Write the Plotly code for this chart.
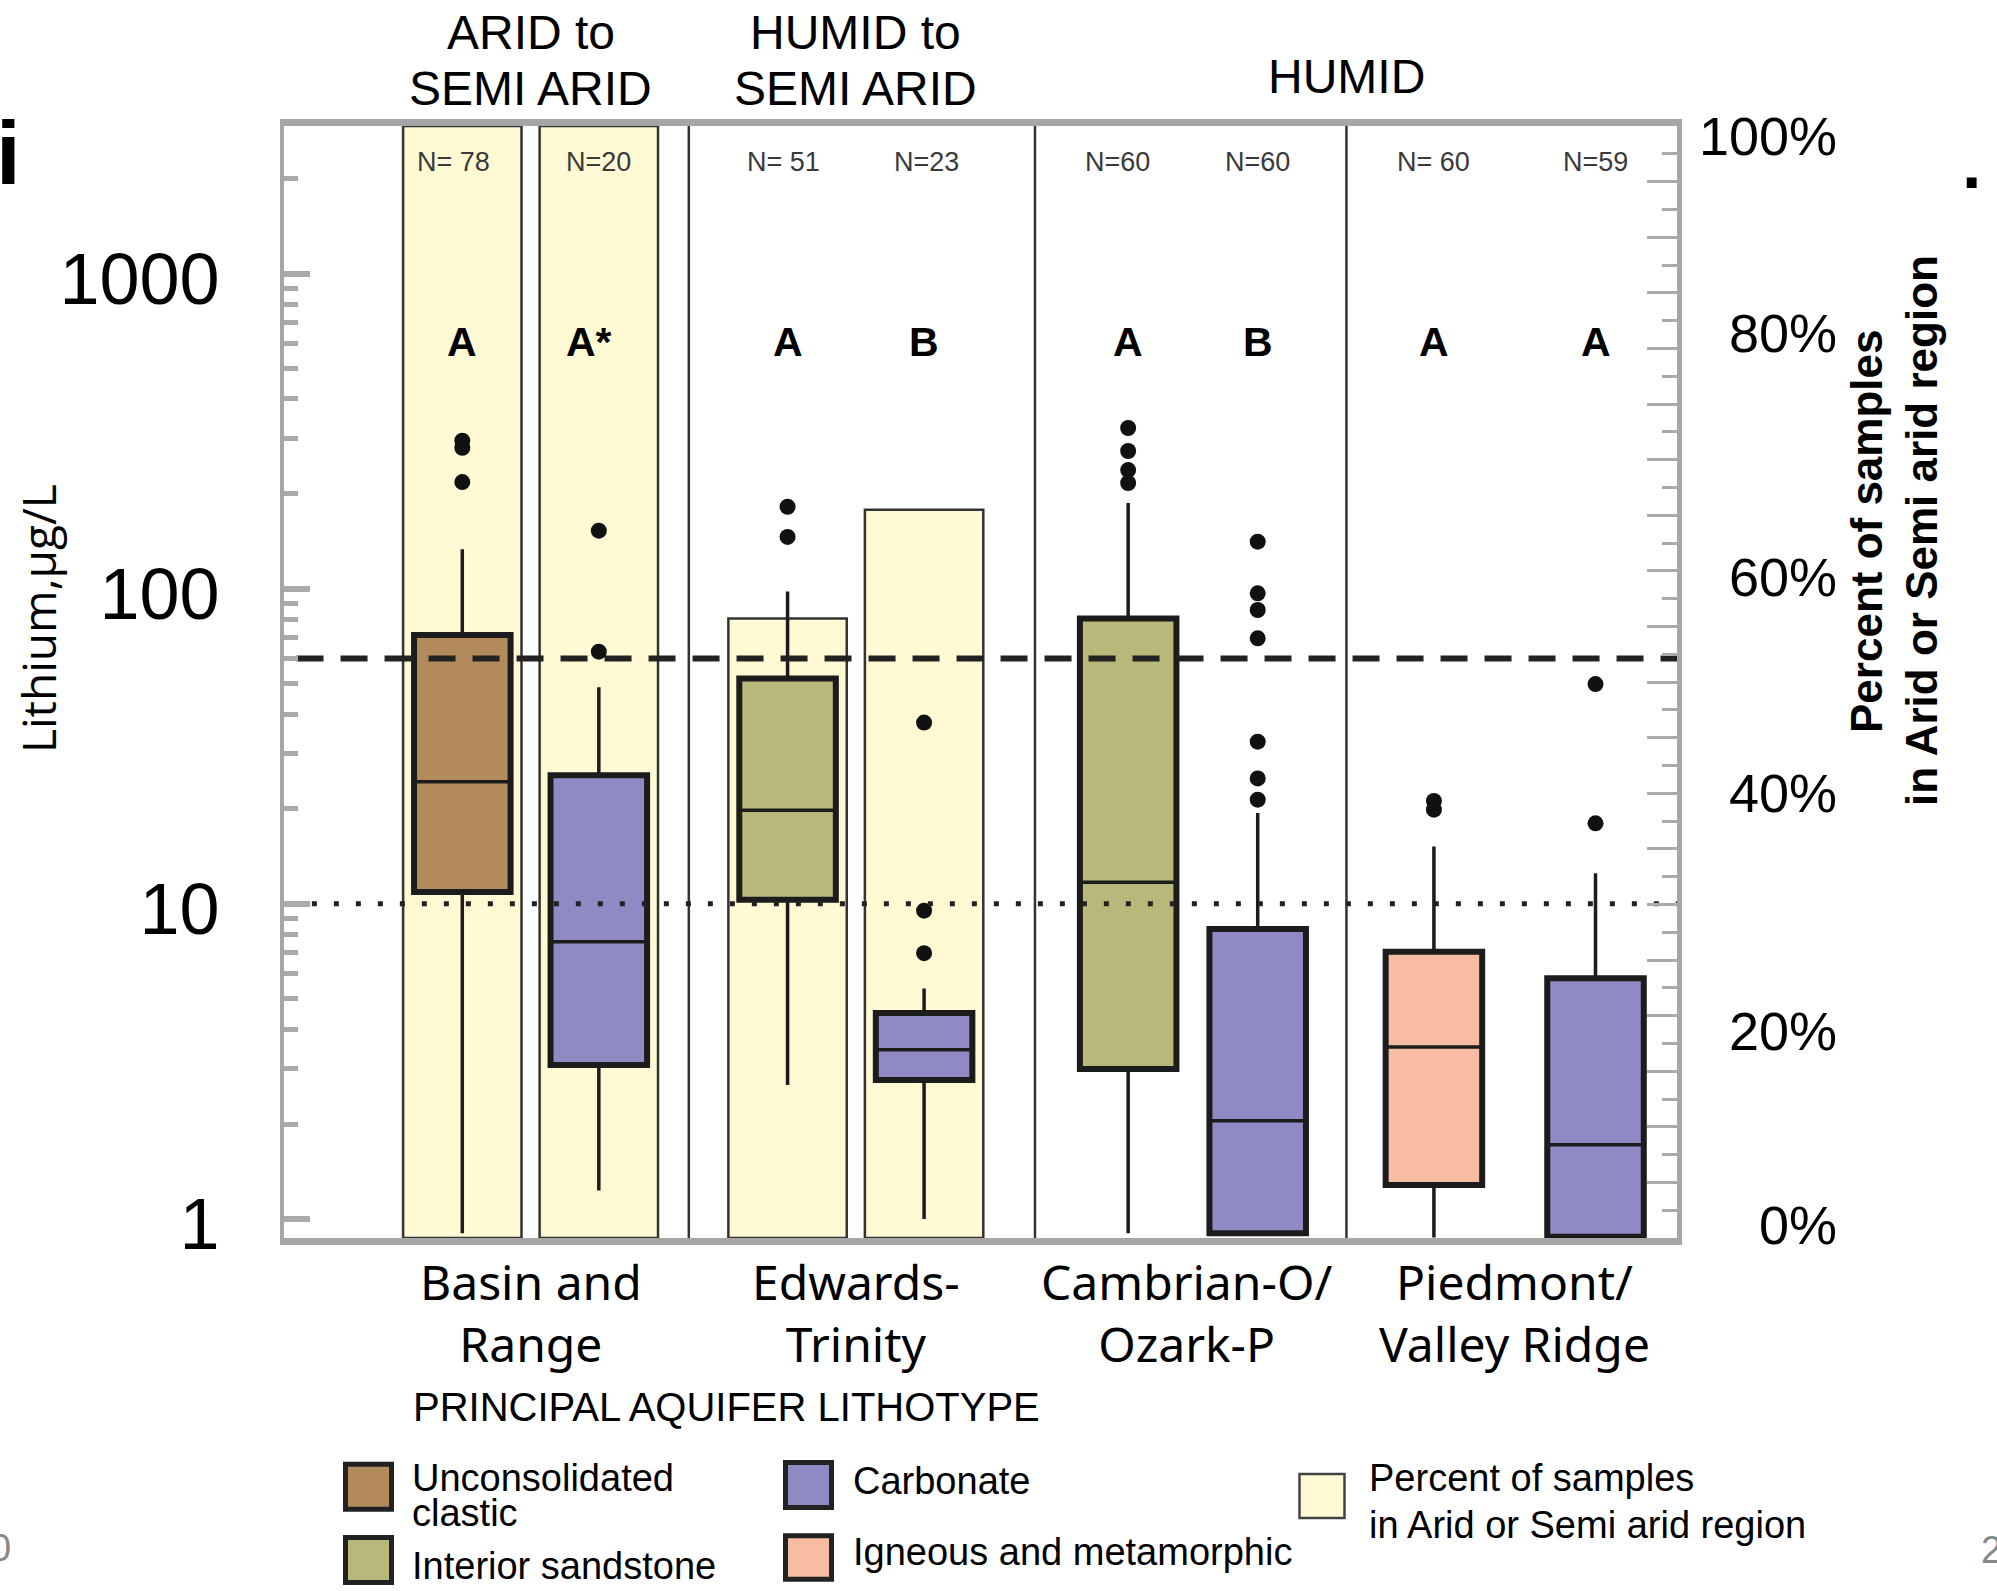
import plotly.graph_objects as go

# ----------------------------- data -----------------------------
aquifer_labels = ["Basin and<br>Range", "Edwards-<br>Trinity", "Cambrian-O/<br>Ozark-P", "Piedmont/<br>Valley Ridge"]
climate_headers = [["ARID to", "SEMI ARID"], ["HUMID to", "SEMI ARID"], ["HUMID"]]
lithotypes = ["Unconsolidated clastic", "Carbonate", "Interior sandstone", "Carbonate",
              "Interior sandstone", "Carbonate", "Igneous and metamorphic", "Carbonate"]
n_labels = ["N= 78", "N=20", "N= 51", "N=23", "N=60", "N=60", "N= 60", "N=59"]
group_letters = ["A", "A*", "A", "B", "A", "B", "A", "A"]

q1 = [10.9, 3.08, 10.3, 2.76, 2.99, 0.90, 1.28, 0.878]
median = [24.4, 7.58, 19.8, 3.44, 11.7, 2.05, 3.51, 1.72]
q3 = [71.3, 25.6, 51.9, 4.50, 80.5, 8.32, 7.05, 5.80]
lower_whisker = [0.90, 1.23, 2.66, 1.0, 0.90, 0.90, 0.873, 0.878]
upper_whisker = [133.5, 48.7, 98.0, 5.39, 187.0, 19.4, 15.2, 12.5]
outliers = [[295, 280, 218], [152.8, 63.1], [182, 146], [37.6, 9.51, 6.97],
            [323.6, 273.5, 238, 216.5], [141, 96.7, 85.6, 69.6, 32.7, 25.0, 21.4],
            [21.2, 19.9], [49.8, 18.0]]
pct_arid = [100, 100, 55.7, 65.5, 0, 0, 0, 0]

hbsl_value = 10          # dotted reference line
dw_threshold = 60        # dashed reference line

left_tick_vals = [1, 10, 100, 1000]
left_tick_text = ["1", "10", "100", "1000"]
pct_label_vals = [0, 20, 40, 60, 80, 100]
pct_label_text = ["0%", "20%", "40%", "60%", "80%", "100%"]

legend_items = [("Unconsolidated clastic", ["Unconsolidated", "clastic"]),
                ("Interior sandstone", ["Interior sandstone"]),
                ("Carbonate", ["Carbonate"]),
                ("Igneous and metamorphic", ["Igneous and metamorphic"])]
arid_legend_text = ["Percent of samples", "in Arid or Semi arid region"]

# ----------------------------- styling / layout -----------------------------
lith_colors = {"Unconsolidated clastic": "#B38A5B", "Carbonate": "#8F89C4",
               "Interior sandstone": "#B8B87B", "Igneous and metamorphic": "#F7BCA2"}
ARID_FILL = "#FFF9D4"
FRAME = "#a6a6a6"
TICK = "#aaaaaa"
INK = "#1c1c1c"
ARIAL = "Liberation Sans, Arial, sans-serif"
NOTO = "Noto Sans, sans-serif"
OPEN = "Open Sans, sans-serif"

box_pos = [12.8, 22.6, 36.15, 45.95, 60.6, 69.9, 82.55, 94.15]   # x positions (0-100 axis)
divider_pos = [29.06, 53.91, 76.27]
box_width = 6.93
arid_bar_width = 8.5
label_xshift_n = [-9, 0, -4, 2, -11, 0, 0, 0]
letter_xshift = [0, -10, 0, 0, 0, 0, 0, 0]
aq_label_xshift = [0, 0, -6, 0]
pct_label_yshift = [13, -15, 0, -6, 15, -10]

OFF = 0
W, H = 1997, 1591
ML, MT, MR, MB = 284, 126, 320, 353
PW, PH = W - ML - MR, H - MT - MB


def px(sx):
    return (sx - OFF - ML) / PW


def py(sy):
    return 1 - (sy - OFF - MT) / PH


fig = go.Figure()

# yellow "percent arid" bars (right axis, linear)
bx = [p for p, v in zip(box_pos, pct_arid) if v > 0]
by = [v for v in pct_arid if v > 0]
fig.add_trace(go.Bar(x=bx, y=by, width=arid_bar_width, yaxis="y",
                     marker=dict(color=ARID_FILL, line=dict(color="#333333", width=2.5)),
                     showlegend=False, hoverinfo="skip"))

# box bodies (fill + heavy outline) on log axis
fig.add_trace(go.Bar(x=box_pos, base=q1, y=[b - a for a, b in zip(q1, q3)], width=box_width,
                     yaxis="y2",
                     marker=dict(color=[lith_colors[l] for l in lithotypes],
                                 line=dict(color=INK, width=6)),
                     showlegend=False, hoverinfo="skip"))

# whiskers + medians
fig.add_trace(go.Box(x=box_pos, q1=q1, median=median, q3=q3,
                     lowerfence=lower_whisker, upperfence=upper_whisker,
                     width=box_width, whiskerwidth=0, boxpoints=False, yaxis="y2",
                     fillcolor="rgba(0,0,0,0)", line=dict(color=INK, width=3.5),
                     showlegend=False, hoverinfo="skip"))

# outliers
ox, oy = [], []
for p, vals in zip(box_pos, outliers):
    ox += [p] * len(vals)
    oy += vals
fig.add_trace(go.Scatter(x=ox, y=oy, mode="markers", yaxis="y2",
                         marker=dict(color="#111111", size=16),
                         showlegend=False, hoverinfo="skip"))

# reference lines
fig.add_trace(go.Scatter(x=[0.9, 100], y=[dw_threshold, dw_threshold], mode="lines", yaxis="y2",
                         line=dict(color="#222222", width=6, dash="27px,17px"),
                         showlegend=False, hoverinfo="skip"))
fig.add_trace(go.Scatter(x=[2.0, 100], y=[hbsl_value, hbsl_value], mode="lines", yaxis="y2",
                         line=dict(color="#222222", width=5, dash="5px,17px"),
                         showlegend=False, hoverinfo="skip"))

shapes = []
for d in divider_pos:
    shapes.append(dict(type="line", xref="x", yref="paper", x0=d, x1=d, y0=0, y1=1,
                       line=dict(color="#333333", width=2.5), layer="below"))

annotations = []


def ann(text, x, y, size, family=ARIAL, xref="paper", yref="paper", color="black",
        xanchor="center", yanchor="middle", **kw):
    annotations.append(dict(text=text, x=x, y=y, xref=xref, yref=yref, showarrow=False,
                            xanchor=xanchor, yanchor=yanchor,
                            font=dict(size=size, family=family, color=color), **kw))


# climate headers
group_centers = [(box_pos[0] + box_pos[1]) / 2, (box_pos[2] + box_pos[3]) / 2,
                 divider_pos[2]]
for gx, lines in zip(group_centers, climate_headers):
    if len(lines) == 2:
        ann(lines[0], gx, py(32.5), 48, xref="x")
        ann(lines[1], gx, py(88.4), 48, xref="x")
    else:
        ann(lines[0], gx, py(76), 48, xref="x")

# N labels and letters
for p, n, s in zip(box_pos, n_labels, label_xshift_n):
    ann(n, p, py(162.5), 27, xref="x", color="#3a3a3a", xshift=s)
for p, t, s in zip(box_pos, group_letters, letter_xshift):
    ann("<b>" + t + "</b>", p, py(342.5), 41, xref="x", xshift=s)

# aquifer category labels
aq_centers = [(box_pos[2 * i] + box_pos[2 * i + 1]) / 2 for i in range(4)]
for cx, lab, s in zip(aq_centers, aquifer_labels, aq_label_xshift):
    ann(lab, cx, py(1312.5), 48, family=NOTO, xref="x", xshift=s)
ann("PRINCIPAL AQUIFER LITHOTYPE", px(726), py(1406.7), 40)

# right-axis percent labels
for v, t, s in zip(pct_label_vals, pct_label_text, pct_label_yshift):
    ann(t, px(1839), v, 54, yref="y", xanchor="right", yshift=s)

# axis titles
ann("Lithium,µg/L", px(38), py(619), 46, family=OPEN, textangle=-90)
ann("<b>Percent of samples</b>", px(1866), py(531), 44, textangle=-90)
ann("<b>in Arid or Semi arid region</b>", px(1921), py(531), 44, textangle=-90)

# legend
sq = {"Unconsolidated clastic": (345.5, 391.5, 1464.2, 1509.2),
      "Interior sandstone": (345.5, 391.5, 1537.5, 1582.5),
      "Carbonate": (785.5, 831.5, 1462.5, 1507.5),
      "Igneous and metamorphic": (785.5, 831.5, 1535.8, 1579.2)}
txt_pos = {"Unconsolidated clastic": (410, [1478, 1513]),
           "Interior sandstone": (410, [1566]),
           "Carbonate": (851, [1481]),
           "Igneous and metamorphic": (851, [1551.5])}
for key, lines in legend_items:
    x0, x1, y0, y1 = sq[key]
    shapes.append(dict(type="rect", xref="paper", yref="paper", x0=px(x0), x1=px(x1),
                       y0=py(y1), y1=py(y0), fillcolor=lith_colors[key],
                       line=dict(color="#222222", width=5)))
    tx, tys = txt_pos[key]
    for line, ty in zip(lines, tys):
        ann(line, px(tx), py(ty), 38, xanchor="left")
shapes.append(dict(type="rect", xref="paper", yref="paper", x0=px(1299.5), x1=px(1344.5),
                   y0=py(1518), y1=py(1474), fillcolor=ARID_FILL,
                   line=dict(color="#444444", width=2.5)))
ann(arid_legend_text[0], px(1367), py(1478), 38, xanchor="left")
ann(arid_legend_text[1], px(1367), py(1524.7), 38, xanchor="left")

# cropped slide remnants at the image edges
ann("<b>i</b>", px(-6), py(153), 89, xanchor="left")
ann("<b>.</b>", px(1971), py(164), 70)
ann("0", px(13), py(1548), 38, color="#888888", xanchor="right")
ann("2", px(1979), py(1550), 38, color="#888888", xanchor="left")

minor_log = [d * m for d in (1, 10, 100, 1000) for m in range(2, 10)]

fig.update_layout(
    width=W, height=H,
    margin=dict(l=ML, r=MR, t=MT, b=MB, pad=0),
    paper_bgcolor="white", plot_bgcolor="white",
    barmode="overlay", boxmode="overlay", showlegend=False,
    xaxis=dict(range=[0, 100], showline=True, mirror=True, linewidth=7, linecolor=FRAME,
               showticklabels=False, ticks="", showgrid=False, zeroline=False,
               automargin=False, fixedrange=True),
    yaxis=dict(range=[0, 100], side="right", showline=True, linewidth=5, linecolor=FRAME,
               tickmode="array", tickvals=list(range(5, 100, 5)), ticks="inside",
               ticklen=30, tickwidth=3, tickcolor=TICK, showticklabels=False,
               minor=dict(ticks="inside", tickmode="array",
                          tickvals=[2.5 + 5 * k for k in range(20)],
                          ticklen=15, tickwidth=3, tickcolor=TICK, showgrid=False),
               showgrid=False, zeroline=False, automargin=False, fixedrange=True),
    yaxis2=dict(type="log", range=[-0.0606, 3.4684], overlaying="y", side="left",
                showline=True, linewidth=4, linecolor=FRAME,
                tickmode="array", tickvals=left_tick_vals, ticktext=left_tick_text,
                ticks="inside", ticklen=26, tickwidth=6, tickcolor=TICK,
                tickfont=dict(family=ARIAL, size=72, color="black"),
                ticklabelstandoff=46, ticklabelshift=5,
                minor=dict(ticks="inside", tickmode="array", tickvals=minor_log,
                           ticklen=14, tickwidth=5, tickcolor=TICK, showgrid=False),
                showgrid=False, zeroline=False, automargin=False, fixedrange=True),
    shapes=shapes,
    annotations=annotations,
)

fig.write_html("out.html", config={"displayModeBar": False},
               post_script="document.body.style.margin='0';document.body.style.overflow='hidden';")
